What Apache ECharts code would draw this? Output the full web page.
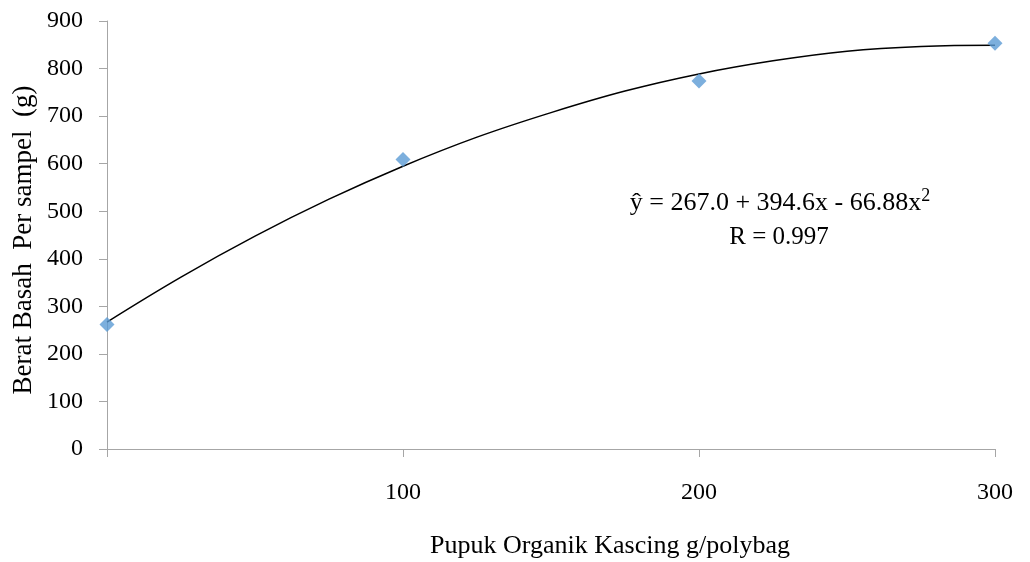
<!DOCTYPE html>
<html><head><meta charset="utf-8">
<script src="https://cdn.jsdelivr.net/npm/echarts@6/dist/echarts.min.js"></script>
<style>html,body{margin:0;padding:0;background:#fff}#c{width:1030px;height:562px}</style>
</head><body><div id="c"></div>
<script>
// Observed data points
const xValues = [0, 100, 200, 300];
const yValues = [262, 609, 774, 853];
// Trendline (quadratic fit curve)
const trendX = [0, 25, 50, 75, 100, 125, 150, 175, 200, 225, 250, 275, 300];
const trendY = [267, 361.5, 447.6, 525.3, 594.7, 655.8, 707.4, 752.7, 788.7, 816.3, 836.5, 846.4, 848.9];
const xTicks = [0, 100, 200, 300];
const yTicks = [0, 100, 200, 300, 400, 500, 600, 700, 800, 900];
const equationMain = 'ŷ = 267.0 + 394.6x - 66.88x';
const equationSup = '2';
const rText = 'R = 0.997';
const xName = 'Pupuk Organik Kascing g/polybag';
const yName = 'Berat Basah  Per sampel  (g)';

const font = '"Liberation Serif", "Times New Roman", serif';
const chart = echarts.init(document.getElementById('c'), null, {renderer: 'canvas'});
chart.setOption({
  animation: false,
  backgroundColor: '#fff',
  grid: {left: 107, right: 35, top: 21, bottom: 113, outerBoundsMode: 'none', containLabel: false},
  xAxis: {
    type: 'value', min: 0, max: 300, interval: 100,
    axisLine: {show: true, lineStyle: {color: '#a6a6a6', width: 1}},
    axisTick: {show: true, length: 8, lineStyle: {color: '#a6a6a6'}},
    splitLine: {show: false},
    axisLabel: {margin: 32, fontFamily: font, fontSize: 24, color: '#000',
      formatter: v => (v === 0 ? '' : String(v))}
  },
  yAxis: {
    type: 'value', min: 0, max: 900, interval: 100,
    axisLine: {show: true, lineStyle: {color: '#a6a6a6', width: 1}},
    axisTick: {show: true, length: 8, lineStyle: {color: '#a6a6a6'}},
    splitLine: {show: false},
    axisLabel: {margin: 24, fontFamily: font, fontSize: 24, color: '#000'}
  },
  series: [
    {
      type: 'line', data: trendX.map((x, i) => [x, trendY[i]]),
      smooth: 0.4, showSymbol: false, symbol: 'none',
      lineStyle: {color: '#000', width: 1.5}, z: 2
    },
    {
      type: 'scatter', data: xValues.map((x, i) => [x, yValues[i]]),
      symbol: 'diamond', symbolSize: 15,
      itemStyle: {color: '#5b9bd5'}, z: 3
    }
  ],
  graphic: [
    {type: 'text', x: 780, y: 203, style: {
      text: '{m|' + equationMain + '}{s|' + equationSup + '}',
      align: 'center', verticalAlign: 'middle',
      rich: {
        m: {fontFamily: font, fontSize: 26, color: '#000', lineHeight: 30},
        s: {fontFamily: font, fontSize: 18, color: '#000', lineHeight: 30, padding: [0, 0, 14, 0]}
      }
    }},
    {type: 'text', x: 779, y: 237, style: {text: rText, font: '25px ' + font, fill: '#000', align: 'center', verticalAlign: 'middle'}},
    {type: 'text', x: 610, y: 546, style: {text: xName, font: '26px ' + font, fill: '#000', align: 'center', verticalAlign: 'middle'}},
    {type: 'text', x: 24, y: 240, rotation: Math.PI / 2, style: {text: yName, font: '27px ' + font, fill: '#000', align: 'center', verticalAlign: 'middle'}}
  ]
});
</script></body></html>
